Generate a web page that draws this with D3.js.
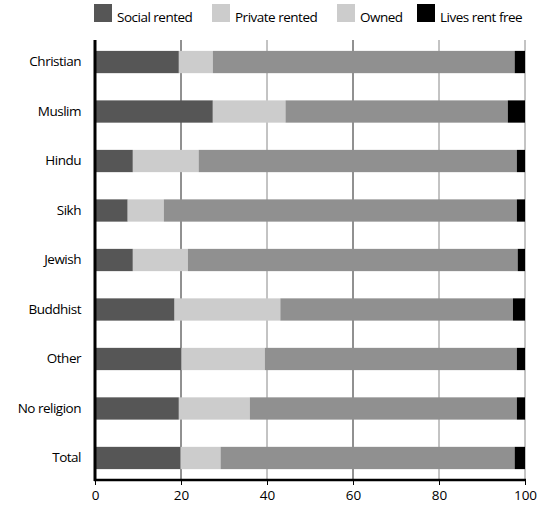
<!DOCTYPE html>
<html><head><meta charset="utf-8">
<script src="https://cdn.jsdelivr.net/npm/d3@7/dist/d3.min.js"></script>
<style>body{margin:0;background:#fff}text{font-family:"Open Sans",sans-serif;font-weight:500;}</style>
</head><body><svg id="c" width="550" height="506"></svg>
<script>
const categories = ["Christian","Muslim","Hindu","Sikh","Jewish","Buddhist","Other","No religion","Total"];
const seriesNames = ["Social rented","Private rented","Owned","Lives rent free"];
const socialRented  = [19.5, 27.4, 8.8, 7.6, 8.8, 18.5, 20.1, 19.5, 19.9];
const privateRented = [7.9, 16.9, 15.3, 8.4, 12.8, 24.6, 19.4, 16.5, 9.3];
const owned         = [70.2, 51.7, 74.0, 82.1, 76.7, 54.1, 58.6, 62.1, 68.4];
const livesRentFree = [2.4, 4.0, 1.9, 1.9, 1.7, 2.8, 1.9, 1.9, 2.4];
const xTicks = [0,20,40,60,80,100];
const barColors = ["#565656","#cccccc","#909090","#000000"];
const legendColors = ["#565656","#cccccc","#cccccc","#000000"];

const svg = d3.select("#c");
const x = d3.scaleLinear().domain([0,100]).range([95,525]);
const y = d3.scaleBand().domain(categories).range([40,480]).paddingInner(0.55).paddingOuter(0.22);

// gridlines
svg.append("g").selectAll("line").data(xTicks.slice(1)).join("line")
  .attr("x1",d=>x(d)).attr("x2",d=>x(d)).attr("y1",40).attr("y2",480)
  .attr("stroke",d=>(d===20||d===60)?"#222":"#888").attr("stroke-width",1);

const rows = categories.map((c,i)=>({cat:c, vals:[socialRented[i],privateRented[i],owned[i],livesRentFree[i]]}));
const segs = [];
rows.forEach(r=>{let acc=0; r.vals.forEach((v,k)=>{segs.push({cat:r.cat,x0:acc,x1:acc+v,k}); acc+=v;});});
svg.append("g").selectAll("rect").data(segs).join("rect")
  .attr("x",d=>x(d.x0)).attr("width",d=>x(d.x1)-x(d.x0))
  .attr("y",d=>y(d.cat)).attr("height",y.bandwidth())
  .attr("fill",d=>barColors[d.k]);

// x axis
const xa = svg.append("g").attr("transform","translate(0,480)")
  .call(d3.axisBottom(x).tickValues(xTicks).tickSize(5).tickPadding(5).tickFormat(d3.format("d")));
xa.select(".domain").attr("stroke","#000").attr("stroke-width",2.5).attr("d","M94,0H526");
xa.selectAll(".tick line").attr("stroke","#000").attr("stroke-width",1);
xa.selectAll(".tick text").attr("font-size",13.5).attr("fill","#000").attr("font-family","Open Sans").attr("dy","0.72em");

// y axis
const ya = svg.append("g").attr("transform","translate(95,0)")
  .call(d3.axisLeft(y).tickSize(0).tickPadding(14));
ya.select(".domain").attr("stroke","#000").attr("stroke-width",3).attr("d","M0,40V481");
ya.selectAll(".tick text").attr("font-size",13.5).attr("fill","#000").attr("font-family","Open Sans").attr("letter-spacing","-0.5");

// legend
const legX = [94,212,337,417];
const leg = svg.append("g").selectAll("g").data(seriesNames).join("g")
  .attr("transform",(d,i)=>`translate(${legX[i]},4)`);
leg.append("rect").attr("width",18).attr("height",18).attr("fill",(d,i)=>legendColors[i]);
leg.append("text").attr("x",23).attr("y",18).attr("font-size",13.5).attr("letter-spacing","-0.5").text(d=>d);
</script></body></html>
